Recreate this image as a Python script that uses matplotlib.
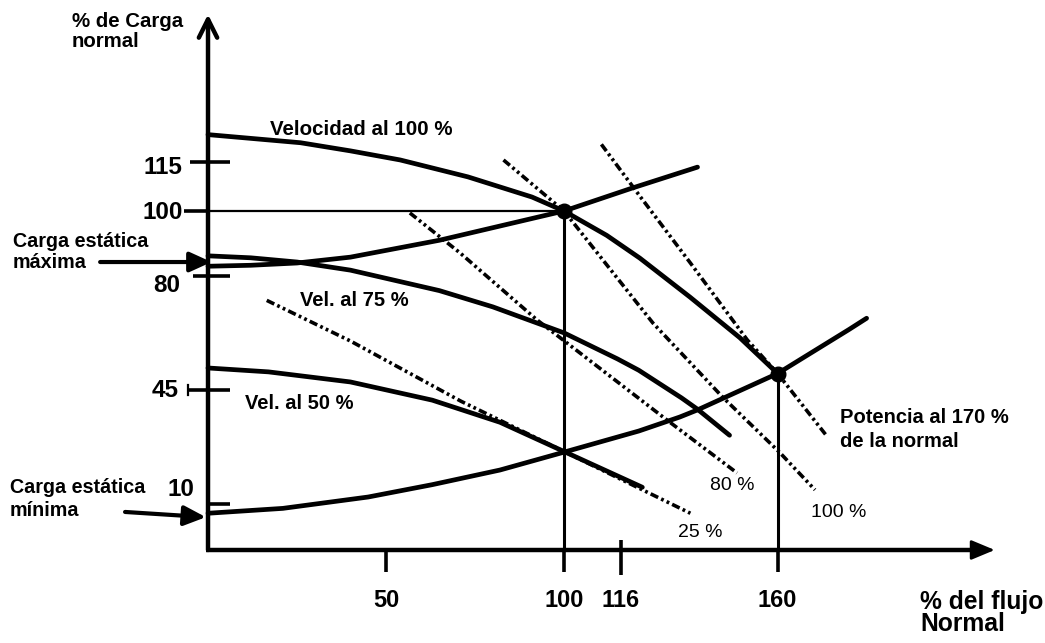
import matplotlib
matplotlib.use("Agg")
import matplotlib.pyplot as plt

plt.rcParams['font.family'] = ['Liberation Sans', 'DejaVu Sans']
plt.rcParams['lines.scale_dashes'] = False

# ---- pump head curves (% of normal flow -> % of normal head) ----
flow_vel_100 = [0, 26, 40, 54, 73, 91, 100, 112, 121.3, 135.4, 149.4, 160]
head_vel_100 = [123.5, 121, 118.5, 115.7, 110.5, 104.3, 100, 92.5, 85.5, 73.5, 61, 50]

flow_vel_75 = [0, 12, 25, 40, 65, 80, 100, 115, 121, 133, 137.5, 146.5]
head_vel_75 = [86.2, 85.6, 84.3, 81.8, 75.5, 70.5, 62.5, 54.5, 51, 42.5, 39, 31]

flow_vel_50 = [0, 17, 40, 63, 82, 100, 122]
head_vel_50 = [51.7, 50.5, 47.4, 41.8, 35, 26, 15]

# ---- system curves ----
flow_sys_max = [0, 12, 25, 40, 65, 100, 119, 137.5]
head_sys_max = [83, 83.3, 84, 85.8, 91, 100, 107, 113.5]

flow_sys_min = [0, 21, 45, 63, 82, 100, 121, 132.5, 137.5, 160, 180, 185]
head_sys_min = [7, 8.5, 12, 15.8, 20.3, 25.8, 32.3, 36.6, 38.8, 50, 63.5, 67]

# ---- dash-dot power lines ----
flow_pow_25 = [16.5, 40, 71, 100, 135.5]
head_pow_25 = [72.5, 60, 41.5, 26, 7]

flow_pow_80 = [56.7, 70.8, 92.4, 104.5, 128.9, 148.6]
head_pow_80 = [99.4, 87.1, 66.5, 56.3, 35.7, 19.4]

flow_pow_100 = [83, 100, 125, 144.5, 160.5, 170.5]
head_pow_100 = [115.7, 100, 65.5, 42.8, 25.8, 14.2]

flow_pow_170 = [110.5, 121.5, 135.5, 151.5, 160, 174]
head_pow_170 = [120.5, 104.3, 84, 60.3, 50, 30.5]

# operating points
op_flow = [100, 160]
op_head = [100, 50]

# axis ticks
x_ticks = [50, 100, 116, 160]
y_ticks = [10, 45, 80, 100, 115]

# ------------------------------------------------------------------
fig = plt.figure(figsize=(10.45, 6.43), dpi=100)
ax = fig.add_axes([0, 0, 1, 1])
ax.set_xlim(-58.43, 235.11)
ax.set_ylim(-32.92, 164.92)
ax.axis('off')

K = 'black'
base = -4.3      # height of the flow axis
x_end = 221.0
y_top = 160.5

# axes with arrow heads
ax.annotate('', xy=(0, y_top), xytext=(0, base),
            arrowprops=dict(arrowstyle='->,head_length=1.1,head_width=0.55',
                            lw=3.2, color=K, shrinkA=0, shrinkB=0, mutation_scale=12))
ax.plot([-0.6, x_end - 3], [base, base], color=K, lw=3.2, solid_capstyle='butt')
ax.annotate('', xy=(x_end, base), xytext=(x_end - 8, base),
            arrowprops=dict(arrowstyle='-|>,head_length=1.2,head_width=0.5',
                            lw=2, color=K, shrinkA=0, shrinkB=0, mutation_scale=12))

# y tick marks
y_tick_span = {10: (0, 6.2), 45: (-5.6, 6.2), 80: (-4.2, 6.2), 100: (-6.8, 0), 115: (-5.0, 6.2)}
for v in y_ticks:
    a, b = y_tick_span[v]
    ax.plot([a, b], [v, v], color=K, lw=2.6, solid_capstyle='butt')
ax.plot([-5.6, -5.6], [43.3, 46.5], color=K, lw=1.6)

y_label_pos = {10: (-3.8, 14.2), 45: (-8.2, 44.8), 80: (-7.8, 77.0), 100: (-7.0, 99.4), 115: (-7.3, 113.3)}
for v in y_ticks:
    lx, ly = y_label_pos[v]
    ax.text(lx, ly, str(v), ha='right', va='center', fontsize=17.5,
            fontweight='bold', color=K)

# x tick marks and labels
x_tick_span = {50: (base, -11.0), 100: (base, -11.0), 116: (-1.3, -12.0), 160: (base, -11.0)}
for u in x_ticks:
    a, b = x_tick_span[u]
    ax.plot([u, u], [a, b], color=K, lw=2.6, solid_capstyle='butt')
    ax.text(u, -19.7, str(u), ha='center', va='center', fontsize=17,
            fontweight='bold', color=K)

# guide lines to the operating points
ax.plot([0, op_flow[0]], [op_head[0], op_head[0]], color=K, lw=1.6)
ax.plot([op_flow[0], op_flow[0]], [base, op_head[0]], color=K, lw=2.2)
ax.plot([op_flow[1], op_flow[1]], [base, op_head[1]], color=K, lw=2.2)

# head and system curves
solid = dict(color=K, lw=3.4, solid_capstyle='round', solid_joinstyle='round')
ax.plot(flow_vel_100, head_vel_100, **solid)
ax.plot(flow_vel_75, head_vel_75, **solid)
ax.plot(flow_vel_50, head_vel_50, **solid)
ax.plot(flow_sys_max, head_sys_max, **solid)
ax.plot(flow_sys_min, head_sys_min, **solid)

# power lines
dashdot = dict(color=K, lw=2.6, linestyle=(0, (6, 2.4, 2, 2.4, 2, 2.4)),
               dash_capstyle='butt')
ax.plot(flow_pow_25, head_pow_25, **dashdot)
ax.plot(flow_pow_80, head_pow_80, **dashdot)
ax.plot(flow_pow_100, head_pow_100, **dashdot)
ax.plot(flow_pow_170, head_pow_170, **dashdot)

ax.plot(op_flow, op_head, 'o', color=K, markersize=10.5, zorder=5)

# static head arrows
ax.annotate('', xy=(1.0, 84.3), xytext=(-30.3, 84.3),
            arrowprops=dict(arrowstyle='-|>,head_length=1.1,head_width=0.5',
                            lw=3, color=K, shrinkA=0, shrinkB=0, mutation_scale=12))
ax.annotate('', xy=(-0.6, 5.8), xytext=(-23.3, 7.4),
            arrowprops=dict(arrowstyle='-|>,head_length=1.1,head_width=0.5',
                            lw=3, color=K, shrinkA=0, shrinkB=0, mutation_scale=12))

# text
bold = dict(fontweight='bold', color=K, va='center', ha='left')
ax.text(-38.2, 158.3, '% de Carga', fontsize=14.7, **bold)
ax.text(-38.2, 152.1, 'normal', fontsize=14.7, **bold)
ax.text(-54.8, 90.6, 'Carga estática', fontsize=14.2, **bold)
ax.text(-54.8, 84.0, 'máxima', fontsize=14.2, **bold)
ax.text(-55.6, 14.8, 'Carga estática', fontsize=14.2, **bold)
ax.text(-55.6, 8.0, 'mínima', fontsize=14.2, **bold)
ax.text(17.4, 125.2, 'Velocidad al 100 %', fontsize=14.8, **bold)
ax.text(25.8, 72.6, 'Vel. al 75 %', fontsize=14.5, **bold)
ax.text(10.4, 40.9, 'Vel. al 50 %', fontsize=14.5, **bold)
ax.text(177.5, 36.5, 'Potencia al 170 %', fontsize=14.5, **bold)
ax.text(177.5, 29.0, 'de la normal', fontsize=14.5, **bold)
ax.text(200.0, -20.3, '% del flujo', fontsize=17.7, **bold)
ax.text(200.0, -27.0, 'Normal', fontsize=17.7, **bold)

small = dict(color=K, va='center', ha='center', fontsize=14,
             family=['Liberation Sans Narrow', 'Liberation Sans', 'DejaVu Sans'])
ax.text(147.2, 15.4, '80 %', **small)
ax.text(177.2, 7.1, '100 %', **small)
ax.text(138.2, 1.1, '25 %', **small)

fig.savefig('out.png', dpi=100, facecolor='white')
